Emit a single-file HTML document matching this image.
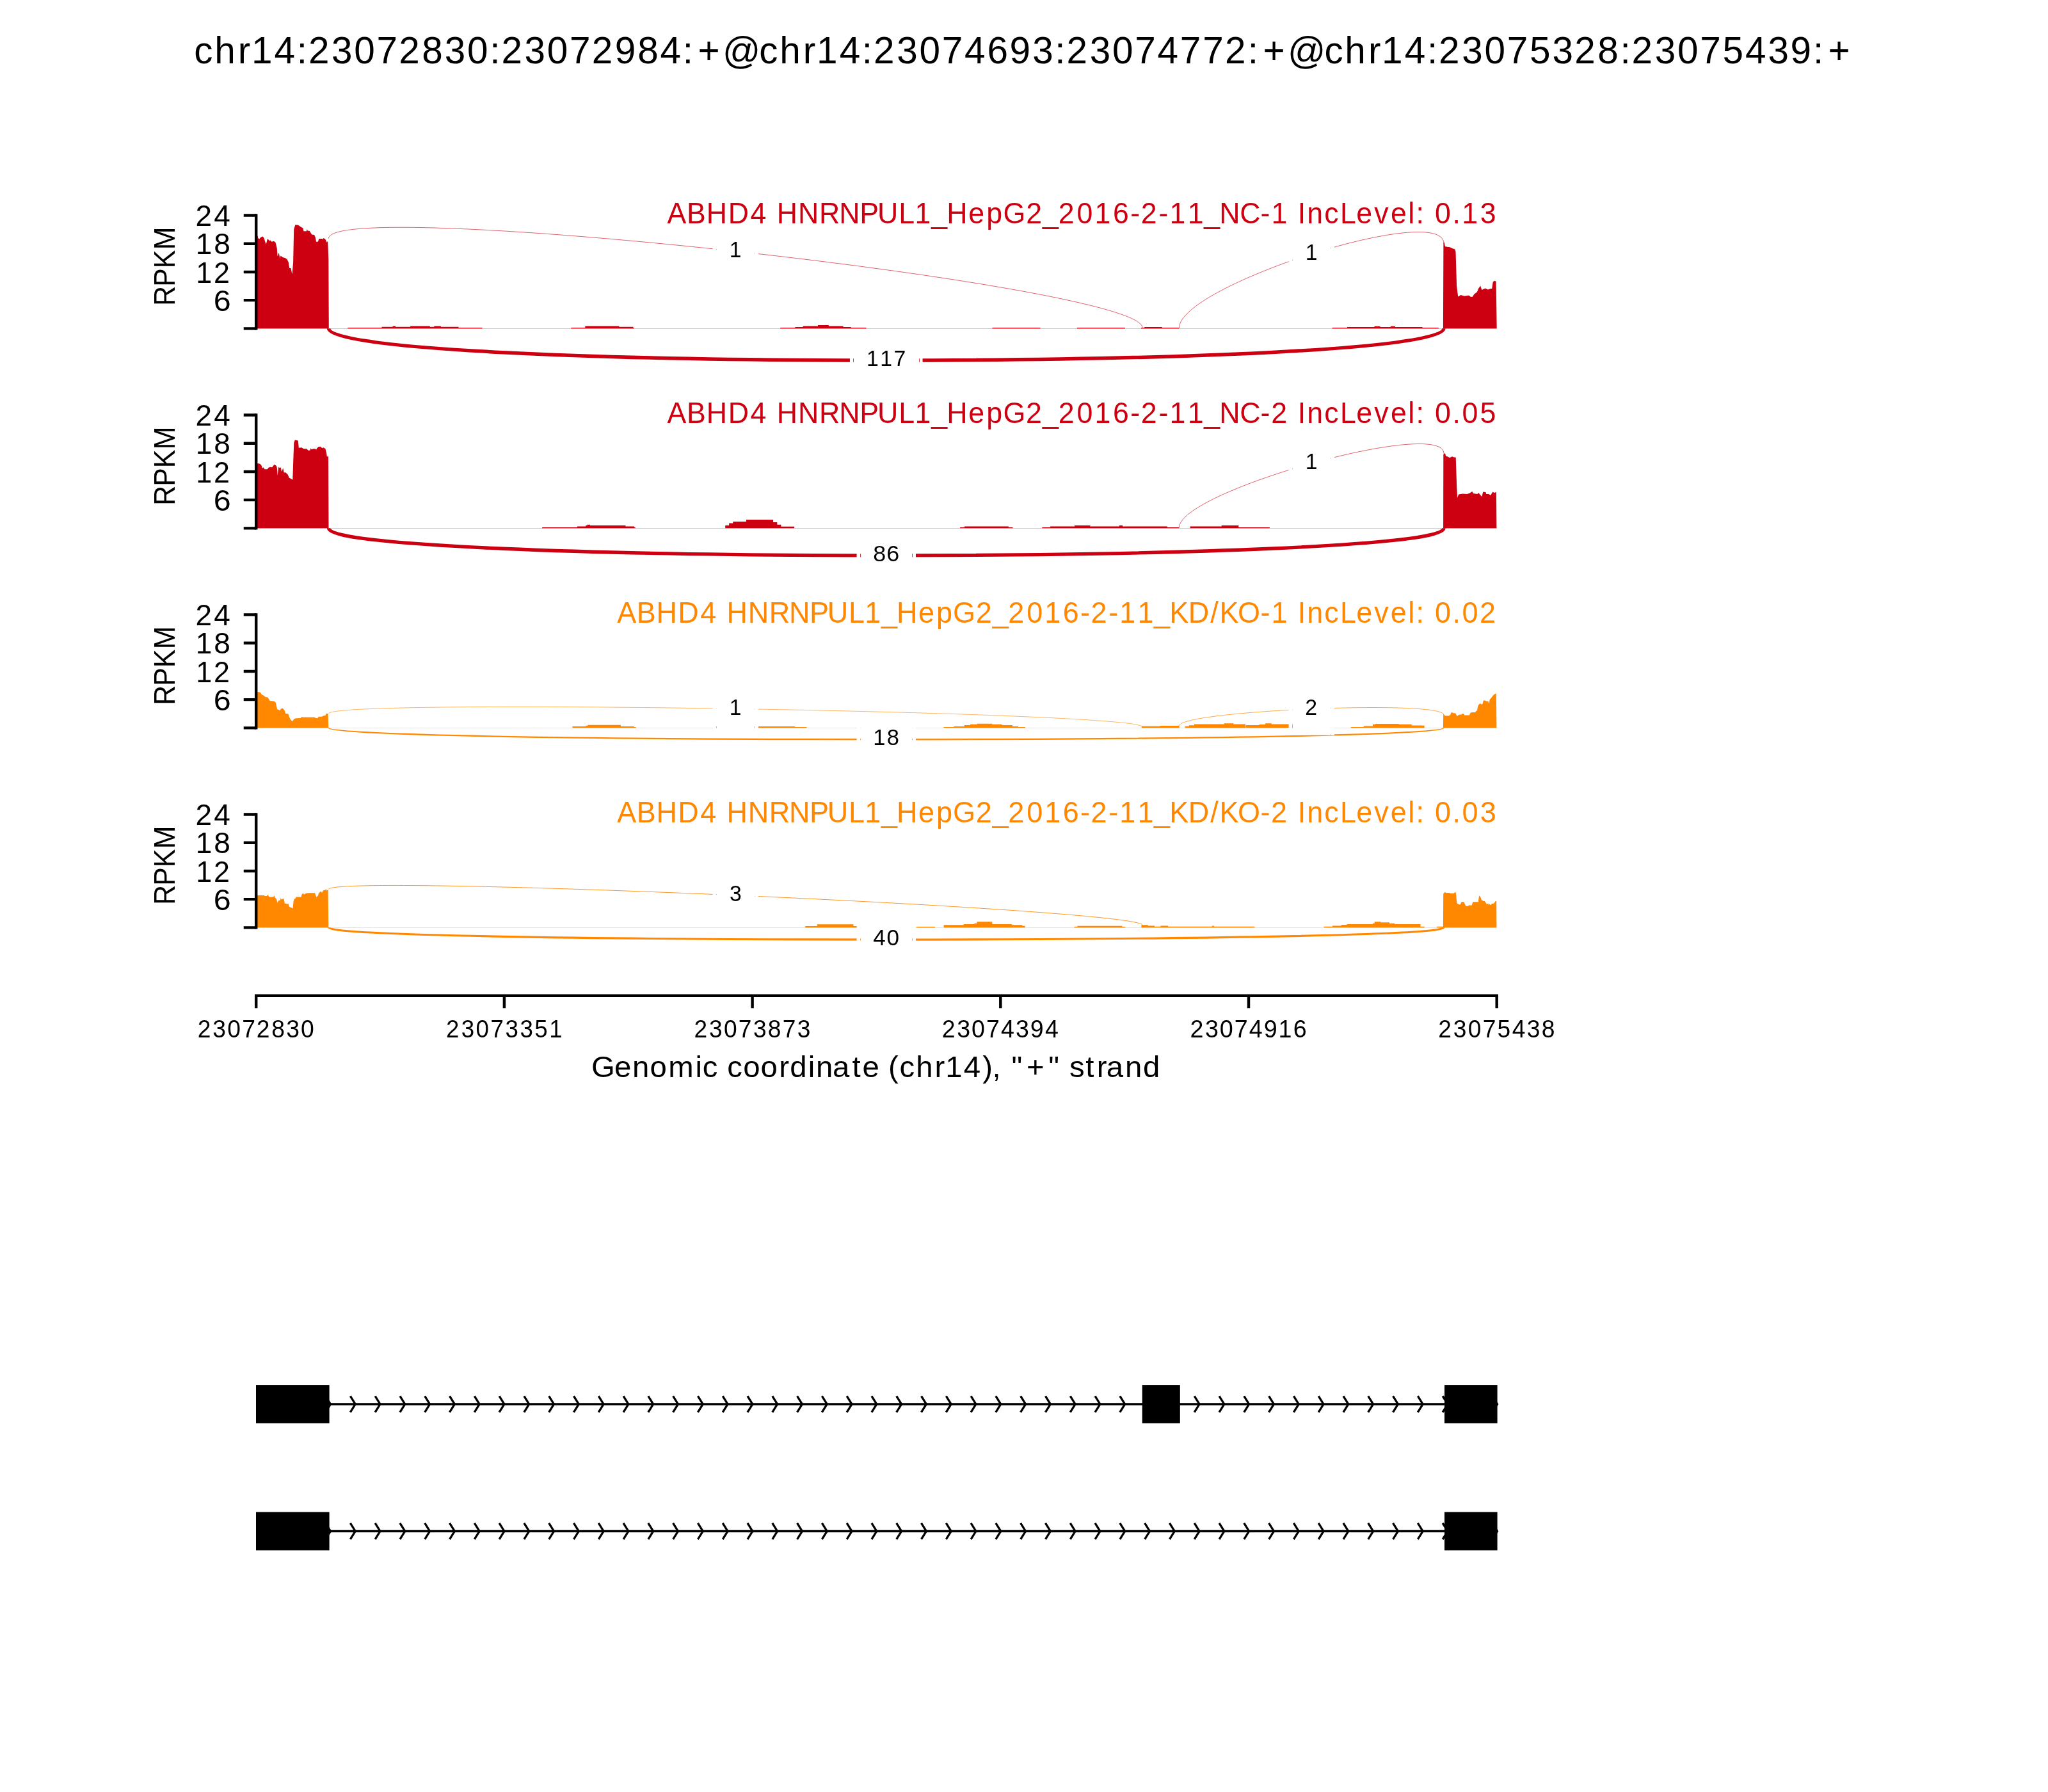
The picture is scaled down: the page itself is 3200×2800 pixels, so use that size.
<!DOCTYPE html>
<html><head><meta charset="utf-8"><title>sashimi plot</title>
<style>
html,body{margin:0;padding:0;background:#fff;}
svg{display:block;will-change:transform;}
text{font-family:"Liberation Sans",sans-serif;font-kerning:none;white-space:pre;}
</style></head>
<body>
<svg width="3200" height="2800" viewBox="0 0 3200 2800">
<rect width="3200" height="2800" fill="#fff"/>
<text transform="matrix(0.99356 0 0 1 0 98.5)" x="305.19 337.33 374.15 395.48 431.35 466.78 485.03 521.42 556.92 592.38 627.33 663.64 699.29 734.79 770.22 788.47 824.86 860.36 895.82 930.77 966.91 1002.66 1038.23 1073.66 1097.49 1136.29 1194 1226.14 1262.96 1284.28 1320.16 1355.59 1373.84 1410.23 1445.72 1481.19 1516.87 1552.45 1587.85 1623.68 1659.03 1677.28 1713.67 1749.17 1784.63 1820.31 1855.78 1891.36 1926.3 1962.47 1986.3 2025.1 2082.81 2114.95 2151.77 2173.09 2208.96 2244.39 2262.65 2299.03 2334.53 2370 2405.47 2441.34 2476.1 2512.41 2547.84 2566.09 2602.48 2637.97 2673.44 2708.91 2744.7 2780.35 2815.67 2851.28 2875.11" y="0" font-size="58.87" fill="#000">chr14:23072830:23072984:+@chr14:23074693:23074772:+@chr14:23075328:23075439:+</text>
<g>
<rect x="400" y="513" width="1938.7" height="1" fill="#CC0011" fill-opacity="0.28"/>
<path d="M400,513.35 L400,367.1 L401.9,367.1 L403.5,372.4 L405.6,372.9 L406.7,371.4 L409.3,369.8 L410.9,369.8 L412.5,371.9 L415.7,382 L417.8,373.5 L418.9,373.5 L420.5,376.1 L422.6,375.6 L424.7,377.7 L427.9,376.7 L430.5,378.8 L432.7,387.8 L433.7,400.5 L435.8,394.7 L437.4,403.7 L438.5,399.5 L441.7,402.1 L445.9,403.2 L448.6,405.3 L450.7,409.5 L452.3,419.1 L454.4,419.1 L456.5,428.6 L458.1,410.6 L459.2,358.6 L461.3,351.2 L466.1,351.7 L469.2,353.9 L473.5,356.5 L474.5,361.3 L478.8,361.3 L479.8,358.1 L480.9,360.7 L483.6,360.7 L487.3,366.6 L491,367.1 L492.6,370.3 L494.2,377.7 L496.8,377.7 L498.4,373 L502.1,373 L504.2,373.5 L505.8,371.9 L508.5,374 L510.6,378.8 L512.2,376.7 L513.3,404.2 L513.8,513.35 L513.8,513.35 Z" fill="#CC0011"/>
<path d="M2254.9,513.35 L2254.9,513.35 L2255.4,379.8 L2256.4,378.3 L2258,385.1 L2261.2,385.7 L2265.5,386.2 L2269.7,388.3 L2273.4,389.4 L2274.5,393.6 L2276.1,446.6 L2278.2,463.6 L2282.4,461 L2288.8,462.6 L2295.2,461.5 L2297.3,463.6 L2300.5,464.1 L2303.6,459.4 L2307.9,456.2 L2310,450.9 L2313.2,446.6 L2315.3,453 L2320.6,450.4 L2324.9,452.5 L2329.1,450.9 L2331.2,450.9 L2332.8,440.3 L2335.5,438.7 L2337.6,439.8 L2338.7,513.35 L2338.7,513.35 Z" fill="#CC0011"/>
<path d="M543.2,513.35H753.6V512H543.2ZM596.5,513.35H716.5V510.8H596.5ZM613.6,513.35H618.1V509.6H613.6ZM641.1,513.35H671.8V509.6H641.1ZM678.3,513.35H688.9V509.6H678.3ZM892.3,513.35H990.6V512H892.3ZM914.3,513.35H967.4V509.6H914.3ZM967.4,513.35H989.4V510.8H967.4ZM1219.2,513.35H1353.5V511.9H1219.2ZM1242.4,513.35H1329.7V510.9H1242.4ZM1254.6,513.35H1317.6V509.6H1254.6ZM1278,513.35H1294.9V508H1278ZM1550.4,513.35H1625.6V512H1550.4ZM1682.8,513.35H1757.9V512H1682.8ZM1783.1,513.35H1842.4V512H1783.1ZM1788.2,513.35H1815.8V511.1H1788.2ZM2081.6,513.35H2247.8V512H2081.6ZM2105,513.35H2222.5V510.9H2105ZM2147.5,513.35H2156.5V509.7H2147.5ZM2172.8,513.35H2180V509.7H2172.8Z" fill="#CC0011"/>
<path d="M513.5,372.7 C513.5,306.4 1785,445.7 1785,512" fill="none" stroke="#CC0011" stroke-width="0.62"/>
<path d="M1842.5,512.3 C1842.5,446 2256,314.4 2256,380.7" fill="none" stroke="#CC0011" stroke-width="0.62"/>
<path d="M513.5,513.35 C513.5,579.65 2256,579.65 2256,513.35" fill="none" stroke="#CC0011" stroke-width="5.5"/>
<rect x="1113.65" y="351.49" width="5.35" height="82.27" fill="#fff"/>
<rect x="1119" y="351.49" width="1" height="82.27" fill="#fff" fill-opacity="0.25"/>
<rect x="1120" y="351.49" width="59" height="82.27" fill="#fff"/>
<rect x="1179" y="351.49" width="1" height="82.27" fill="#fff" fill-opacity="0.25"/>
<rect x="1180" y="351.49" width="4.85" height="82.27" fill="#fff"/>
<text transform="matrix(0.95017 0 0 1 0 401.82)" x="1199.52" y="0" font-size="35.32" fill="#000">1</text>
<rect x="2013.65" y="355.64" width="5.35" height="82.27" fill="#fff"/>
<rect x="2019" y="355.64" width="1" height="82.27" fill="#fff" fill-opacity="0.25"/>
<rect x="2020" y="355.64" width="59" height="82.27" fill="#fff"/>
<rect x="2079" y="355.64" width="1" height="82.27" fill="#fff" fill-opacity="0.25"/>
<rect x="2080" y="355.64" width="4.85" height="82.27" fill="#fff"/>
<text transform="matrix(0.95017 0 0 1 0 405.97)" x="2146.72" y="0" font-size="35.32" fill="#000">1</text>
<rect x="1327.94" y="521.94" width="5.06" height="82.27" fill="#fff"/>
<rect x="1333" y="521.94" width="1" height="82.27" fill="#fff" fill-opacity="0.25"/>
<rect x="1334" y="521.94" width="102" height="82.27" fill="#fff"/>
<rect x="1436" y="521.94" width="1" height="82.27" fill="#fff" fill-opacity="0.25"/>
<rect x="1437" y="521.94" width="4.56" height="82.27" fill="#fff"/>
<text transform="matrix(0.95811 0 0 1 0 572.27)" x="1413.17 1435.3 1457.54" y="0" font-size="35.32" fill="#000">117</text>
<path d="M400.2,513.35 V336.5" stroke="#000" stroke-width="4.44" stroke-linecap="square"/>
<path d="M380.76,513.35H400.2M380.76,469.14H400.2M380.76,424.93H400.2M380.76,380.71H400.2M380.76,336.5H400.2" stroke="#000" stroke-width="4.44"/>
<text transform="matrix(1.02965 0 0 1 0 485.74)" x="324.06" y="0" font-size="47.09" fill="#000">6</text>
<text transform="matrix(0.95467 0 0 1 0 441.53)" x="320.7 349.92" y="0" font-size="47.09" fill="#000">12</text>
<text transform="matrix(0.97907 0 0 1 0 397.31)" x="312.36 341.48" y="0" font-size="47.09" fill="#000">18</text>
<text transform="matrix(0.97786 0 0 1 0 353.1)" x="312.4 341.91" y="0" font-size="47.09" fill="#000">24</text>
<text transform="translate(272.8,474.1) rotate(-90) scale(0.91010,1)" x="-3.98 29.03 60.14 92.08" y="0" font-size="47.09" fill="#000">RPKM</text>
<text transform="matrix(0.94955 0 0 1 0 348.8)" x="1097.96 1129.99 1162.38 1198.12 1234.81 1263.71 1278.27 1313.38 1347.94 1380.91 1414.65 1443.79 1478.88 1505.56 1532.47 1557.76 1593.77 1623.25 1650.67 1688.32 1715.63 1741.5 1771.9 1801.45 1831.46 1860.05 1877.51 1906.72 1924.57 1954.35 1981.27 2006.46 2040.07 2074.27 2092.12 2121.23 2135.57 2150.86 2179.24 2205.38 2231.89 2261.37 2288.38 2317.06 2330.14 2345.46 2361.22 2390.09 2405.66 2435.71" y="0" font-size="47.09" fill="#CC0011">ABHD4 HNRNPUL1_HepG2_2016-2-11_NC-1 IncLevel: 0.13</text>
</g>
<g>
<rect x="400" y="825" width="1938.7" height="1" fill="#CC0011" fill-opacity="0.28"/>
<path d="M400,825.35 L400,724.3 L402,724.3 L405,724.3 L408.1,726.3 L410.1,731.8 L411.6,730.3 L413.6,733.3 L417.6,733.3 L419.6,730.8 L422.1,729.8 L425.1,730.3 L428.6,725.8 L431.7,727.8 L432.7,730.3 L433.7,742.9 L435.2,729.8 L437.2,731.3 L438.7,730.3 L440.2,737.3 L442.2,731.3 L443.7,738.3 L446.2,738.3 L449.7,741.4 L451.7,746.4 L457.3,749.4 L458.3,718.3 L459.3,692.1 L460.8,687.6 L465.8,688.6 L466.8,699.7 L471.3,699.2 L474.3,701.2 L479.4,701.2 L481.4,703.7 L484.4,703.7 L485.4,700.2 L486.9,702.2 L489.4,701.2 L492.9,701.2 L493.9,702.7 L495.4,700.2 L497.4,698.2 L500.5,697.7 L503.5,700.2 L505.5,699.2 L508.5,701.2 L510,707.2 L511,714.2 L512,711.7 L513,714.2 L513.5,825.35 L513.5,825.35 Z" fill="#CC0011"/>
<path d="M2255.1,825.35 L2255.1,825.35 L2255.3,710.2 L2256.6,708.7 L2258.1,708.2 L2259.1,712.7 L2261.6,713.2 L2265.1,715.2 L2269.1,713.2 L2271.1,714.2 L2274.7,714.7 L2276.2,760.4 L2277.2,777.5 L2279.2,772.5 L2285.2,771.5 L2292.2,772 L2296.3,770.5 L2300.3,768 L2302.3,771 L2308.3,772 L2310.3,770 L2312.3,772.5 L2315.3,776 L2317.3,768.5 L2321.4,769 L2322.4,772 L2326.4,772 L2328.9,774 L2332.4,768.5 L2334.4,770 L2337.9,769 L2338.4,825.35 L2338.4,825.35 Z" fill="#CC0011"/>
<path d="M847.1,825.35H992.7V824.1H847.1ZM902,825.35H990.9V822.6H902ZM915.2,825.35H977.5V821.1H915.2ZM917.7,825.35H921.9V819.8H917.7ZM1133.2,825.35H1241.1V822.7H1133.2ZM1133.2,825.35H1139.1V820.9H1133.2ZM1139.1,825.35H1220.4V819.8H1139.1ZM1139.1,825.35H1214.3V817.4H1139.1ZM1145.3,825.35H1214.3V815.9H1145.3ZM1145.3,825.35H1208.1V814.9H1145.3ZM1165.9,825.35H1208.1V811.9H1165.9ZM1500.1,825.35H1582.5V824.1H1500.1ZM1507.1,825.35H1575.8V822.6H1507.1ZM1628.3,825.35H1842.4V824.1H1628.3ZM1641.1,825.35H1823.9V822.5H1641.1ZM1679,825.35H1703.4V821.1H1679ZM1748.7,825.35H1754.2V820.9H1748.7ZM1859.5,825.35H1983.9V823.9H1859.5ZM1859.5,825.35H1935.3V822.5H1859.5ZM1908.7,825.35H1935.3V820.9H1908.7Z" fill="#CC0011"/>
<path d="M1842.5,824.2 C1842.5,767.5 2256,652.1 2256,708.8" fill="none" stroke="#CC0011" stroke-width="0.62"/>
<path d="M513.5,825.35 C513.5,882.05 2256,882.05 2256,825.35" fill="none" stroke="#CC0011" stroke-width="5.3"/>
<rect x="2013.65" y="682.84" width="5.35" height="82.27" fill="#fff"/>
<rect x="2019" y="682.84" width="1" height="82.27" fill="#fff" fill-opacity="0.25"/>
<rect x="2020" y="682.84" width="59" height="82.27" fill="#fff"/>
<rect x="2079" y="682.84" width="1" height="82.27" fill="#fff" fill-opacity="0.25"/>
<rect x="2080" y="682.84" width="4.85" height="82.27" fill="#fff"/>
<text transform="matrix(0.95017 0 0 1 0 733.18)" x="2146.72" y="0" font-size="35.32" fill="#000">1</text>
<rect x="1338.54" y="826.74" width="5.46" height="82.27" fill="#fff"/>
<rect x="1344" y="826.74" width="1" height="82.27" fill="#fff" fill-opacity="0.25"/>
<rect x="1345" y="826.74" width="80" height="82.27" fill="#fff"/>
<rect x="1425" y="826.74" width="1" height="82.27" fill="#fff" fill-opacity="0.25"/>
<rect x="1426" y="826.74" width="4.96" height="82.27" fill="#fff"/>
<text transform="matrix(1.01754 0 0 1 0 877.08)" x="1340.63 1361.48" y="0" font-size="35.32" fill="#000">86</text>
<path d="M400.2,825.35 V648.5" stroke="#000" stroke-width="4.44" stroke-linecap="square"/>
<path d="M380.76,825.35H400.2M380.76,781.14H400.2M380.76,736.92H400.2M380.76,692.71H400.2M380.76,648.5H400.2" stroke="#000" stroke-width="4.44"/>
<text transform="matrix(1.02965 0 0 1 0 797.74)" x="324.06" y="0" font-size="47.09" fill="#000">6</text>
<text transform="matrix(0.95467 0 0 1 0 753.52)" x="320.7 349.92" y="0" font-size="47.09" fill="#000">12</text>
<text transform="matrix(0.97907 0 0 1 0 709.31)" x="312.36 341.48" y="0" font-size="47.09" fill="#000">18</text>
<text transform="matrix(0.97786 0 0 1 0 665.1)" x="312.4 341.91" y="0" font-size="47.09" fill="#000">24</text>
<text transform="translate(272.8,786.1) rotate(-90) scale(0.91010,1)" x="-3.98 29.03 60.14 92.08" y="0" font-size="47.09" fill="#000">RPKM</text>
<text transform="matrix(0.95037 0 0 1 0 660.8)" x="1097 1129 1161.36 1197.07 1233.73 1262.62 1277.16 1312.23 1346.77 1379.71 1413.42 1442.53 1477.6 1504.25 1531.14 1556.41 1592.39 1621.84 1649.24 1686.85 1714.14 1739.99 1770.36 1799.89 1829.88 1858.45 1875.88 1905.08 1922.9 1952.66 1979.55 2004.72 2038.3 2072.48 2089.91 2119.4 2133.73 2148.99 2177.35 2203.47 2229.96 2259.41 2286.4 2315.06 2328.13 2343.43 2359.18 2388.03 2403.8 2433.37" y="0" font-size="47.09" fill="#CC0011">ABHD4 HNRNPUL1_HepG2_2016-2-11_NC-2 IncLevel: 0.05</text>
</g>
<g>
<rect x="400" y="1137" width="1938.7" height="1" fill="#FF8800" fill-opacity="0.28"/>
<path d="M400,1137.35 L400,1081.2 L401.8,1081.2 L405.3,1081.2 L407.3,1082.6 L408.7,1084.9 L412.8,1087.3 L414.5,1089 L418.2,1089.4 L421.7,1094.9 L427.5,1095.5 L430.5,1096.9 L433.3,1108.5 L436,1108.9 L437.4,1110.6 L439.4,1106.8 L440.5,1107.5 L441.8,1106.5 L442.8,1107.8 L444.9,1110.6 L446.3,1115 L450.4,1115.4 L453.1,1122.9 L456.5,1127.3 L459.6,1123.2 L462.7,1122.2 L470.2,1121.9 L471.6,1119.8 L472.9,1120.8 L491.4,1120.8 L493.4,1121.9 L496.8,1121.9 L497.5,1119.8 L503,1119.8 L505,1118.4 L508.5,1118.1 L509.5,1114.3 L510.5,1115.4 L512.6,1114.7 L513.3,1137.35 L513.3,1137.35 Z" fill="#FF8800"/>
<path d="M2254.9,1137.35 L2254.9,1137.35 L2255.2,1115.8 L2258.1,1118.4 L2263.8,1118.4 L2266.3,1116.8 L2267.6,1113.3 L2269.5,1113.3 L2270.8,1114.3 L2274,1114.3 L2275.9,1117.4 L2276.5,1119.6 L2278.4,1117.4 L2281,1116.5 L2283.5,1116.5 L2284.8,1115.2 L2287.3,1115.2 L2288.3,1117.4 L2295.9,1117.4 L2297.5,1113.9 L2299.4,1113 L2305.1,1113 L2306.3,1111.1 L2307.9,1110.4 L2309.5,1102.5 L2311.4,1100 L2313.3,1099.3 L2314.6,1100.6 L2316.5,1100 L2317.8,1094.6 L2320.3,1094.6 L2322.2,1095.5 L2325.4,1095.8 L2326.7,1099.7 L2327.6,1093.3 L2330.5,1090.1 L2332.4,1087.3 L2334.9,1084.7 L2337.5,1083.8 L2337.8,1081.6 L2338.4,1137.35 L2338.4,1137.35 Z" fill="#FF8800"/>
<path d="M894.4,1137.35H990.6V1135H894.4ZM915.5,1137.35H918.6V1133.7H915.5ZM918.6,1137.35H969.9V1132.8H918.6ZM990.6,1137.35H993.7V1135.9H990.6ZM1119,1137.35H1242.2V1135H1119ZM1242.2,1137.35H1260.5V1135.9H1242.2ZM1474.4,1137.35H1602V1135.9H1474.4ZM1490.3,1137.35H1591V1135H1490.3ZM1506.8,1137.35H1581.8V1132.9H1506.8ZM1515.9,1137.35H1565.4V1131.7H1515.9ZM1526.9,1137.35H1550.1V1130.7H1526.9ZM1783.8,1137.35H1842.6V1134.8H1783.8ZM1812.5,1137.35H1842.6V1133.9H1812.5ZM1851.5,1137.35H1866V1134.7H1851.5ZM1858,1137.35H1866V1133.2H1858ZM1866,1137.35H1946V1131.6H1866ZM1912.7,1137.35H1927.2V1130.3H1912.7ZM1927.2,1137.35H1934V1132.7H1927.2ZM1946.5,1137.35H2020V1133.1H1946.5ZM1967.5,1137.35H2020V1131.9H1967.5ZM1977.1,1137.35H1986.8V1130.3H1977.1ZM1986.8,1137.35H2020V1131.6H1986.8ZM2110.7,1137.35H2130.7V1135.9H2110.7ZM2130.7,1137.35H2224V1134.5H2130.7ZM2145,1137.35H2205.7V1131.8H2145ZM2148.8,1137.35H2185.7V1130.9H2148.8ZM2205.7,1137.35H2222.7V1133.6H2205.7ZM2220,1137.35H2225.7V1133.7H2220Z" fill="#FF8800"/>
<path d="M513.5,1115 C513.5,1091.1 1785,1111.9 1785,1135.8" fill="none" stroke="#FF8800" stroke-width="0.62"/>
<path d="M1842.5,1134.2 C1842.5,1110.3 2256,1093.1 2256,1117" fill="none" stroke="#FF8800" stroke-width="0.72"/>
<path d="M513.5,1137.35 C513.5,1161.25 2256,1161.25 2256,1137.35" fill="none" stroke="#FF8800" stroke-width="2.3"/>
<rect x="1113.65" y="1066.34" width="5.35" height="82.27" fill="#fff"/>
<rect x="1119" y="1066.34" width="1" height="82.27" fill="#fff" fill-opacity="0.25"/>
<rect x="1120" y="1066.34" width="59" height="82.27" fill="#fff"/>
<rect x="1179" y="1066.34" width="1" height="82.27" fill="#fff" fill-opacity="0.25"/>
<rect x="1180" y="1066.34" width="4.85" height="82.27" fill="#fff"/>
<text transform="matrix(0.95017 0 0 1 0 1116.67)" x="1199.52" y="0" font-size="35.32" fill="#000">1</text>
<rect x="2013.65" y="1066.54" width="5.35" height="82.27" fill="#fff"/>
<rect x="2019" y="1066.54" width="1" height="82.27" fill="#fff" fill-opacity="0.25"/>
<rect x="2020" y="1066.54" width="59" height="82.27" fill="#fff"/>
<rect x="2079" y="1066.54" width="1" height="82.27" fill="#fff" fill-opacity="0.25"/>
<rect x="2080" y="1066.54" width="4.85" height="82.27" fill="#fff"/>
<text transform="matrix(0.95893 0 0 1 0 1116.88)" x="2126.73" y="0" font-size="35.32" fill="#000">2</text>
<rect x="1338.54" y="1114.14" width="5.46" height="82.27" fill="#fff"/>
<rect x="1344" y="1114.14" width="1" height="82.27" fill="#fff" fill-opacity="0.25"/>
<rect x="1345" y="1114.14" width="80" height="82.27" fill="#fff"/>
<rect x="1425" y="1114.14" width="1" height="82.27" fill="#fff" fill-opacity="0.25"/>
<rect x="1426" y="1114.14" width="4.96" height="82.27" fill="#fff"/>
<text transform="matrix(0.97907 0 0 1 0 1164.48)" x="1393.51 1415.35" y="0" font-size="35.32" fill="#000">18</text>
<path d="M400.2,1137.35 V960.5" stroke="#000" stroke-width="4.44" stroke-linecap="square"/>
<path d="M380.76,1137.35H400.2M380.76,1093.14H400.2M380.76,1048.92H400.2M380.76,1004.71H400.2M380.76,960.5H400.2" stroke="#000" stroke-width="4.44"/>
<text transform="matrix(1.02965 0 0 1 0 1109.74)" x="324.06" y="0" font-size="47.09" fill="#000">6</text>
<text transform="matrix(0.95467 0 0 1 0 1065.52)" x="320.7 349.92" y="0" font-size="47.09" fill="#000">12</text>
<text transform="matrix(0.97907 0 0 1 0 1021.31)" x="312.36 341.48" y="0" font-size="47.09" fill="#000">18</text>
<text transform="matrix(0.97786 0 0 1 0 977.1)" x="312.4 341.91" y="0" font-size="47.09" fill="#000">24</text>
<text transform="translate(272.8,1098.1) rotate(-90) scale(0.91010,1)" x="-3.98 29.03 60.14 92.08" y="0" font-size="47.09" fill="#000">RPKM</text>
<text transform="matrix(0.95567 0 0 1 0 972.8)" x="1009.01 1040.83 1073.01 1108.51 1145 1173.76 1188.16 1223.04 1257.38 1290.14 1323.67 1352.61 1387.51 1414.01 1440.76 1465.86 1501.66 1530.95 1558.17 1595.61 1622.74 1648.45 1678.65 1708.01 1737.84 1766.28 1783.58 1812.65 1830.34 1859.93 1886.68 1911.95 1942.81 1978.91 1993.93 2023.78 2060.94 2078.63 2107.61 2121.86 2137 2165.2 2191.17 2217.51 2246.81 2273.65 2302.19 2315.18 2330.4 2346.02 2374.74 2390.39 2419.36" y="0" font-size="47.09" fill="#FF8800">ABHD4 HNRNPUL1_HepG2_2016-2-11_KD/KO-1 IncLevel: 0.02</text>
</g>
<g>
<rect x="400" y="1449" width="1938.7" height="1" fill="#FF8800" fill-opacity="0.28"/>
<path d="M400,1449.35 L400,1399 L401.8,1399 L412.8,1399 L413.5,1400.1 L416.9,1400.1 L418.2,1397.7 L419.6,1400.1 L421.3,1401.4 L427.1,1401.4 L428.5,1399 L429.2,1402.1 L431.9,1404.5 L433.6,1410.7 L435.3,1407.3 L437.7,1406.6 L438.7,1403.2 L440.1,1405.5 L442.2,1404.2 L443.5,1404.5 L444.9,1411.4 L449,1412.4 L450.4,1411.7 L451.7,1416.5 L453.8,1417.8 L455.8,1418.5 L457.5,1419.6 L458.6,1408.3 L459.6,1404.9 L461.6,1403.8 L462.7,1401.4 L470.5,1401.4 L471.6,1397.7 L473.6,1395.3 L475,1397.7 L477,1396.3 L481.1,1395.3 L492.1,1395.3 L493.4,1399.4 L494.8,1401.8 L496.8,1399.4 L498.2,1395.3 L501.6,1392.6 L503,1395 L505,1391.2 L508.5,1390.5 L509.5,1388.8 L510.5,1391.5 L512.6,1390.2 L513.3,1449.35 L513.3,1449.35 Z" fill="#FF8800"/>
<path d="M2254.9,1449.35 L2254.9,1449.35 L2255.2,1396.6 L2256.5,1395.1 L2258.1,1393.8 L2259,1395.1 L2265.1,1395.1 L2266.3,1396 L2271.4,1396 L2272.7,1394.7 L2274.6,1394.1 L2275.2,1398.6 L2276.2,1410 L2277.1,1411.9 L2279,1412.5 L2280,1413.5 L2281.9,1413.1 L2283.5,1409.3 L2287.6,1409.3 L2288.6,1412.2 L2290.5,1415.7 L2293.7,1415.7 L2295.2,1414.4 L2299.7,1414.4 L2301.3,1409.3 L2309.8,1409.3 L2311.1,1399.2 L2313.3,1401.7 L2314.6,1404.9 L2315.2,1407.1 L2316.5,1407.1 L2317.8,1408.1 L2319.7,1408.1 L2321.6,1410.3 L2322.5,1412.5 L2325.4,1411.9 L2326.7,1414.4 L2327.3,1412.2 L2329.5,1414.4 L2330.5,1412.2 L2334.3,1411.6 L2336.8,1408.1 L2338.1,1408.1 L2338.4,1449.35 L2338.4,1449.35 Z" fill="#FF8800"/>
<path d="M1258.1,1449.35H1339V1446.9H1258.1ZM1276.8,1449.35H1333.5V1444.2H1276.8ZM1431.8,1449.35H1461.1V1447.9H1431.8ZM1474.6,1449.35H1601.6V1446.8H1474.6ZM1474.6,1449.35H1597.3V1445.3H1474.6ZM1505.8,1449.35H1580.9V1444.1H1505.8ZM1522.3,1449.35H1550.3V1442.7H1522.3ZM1526.5,1449.35H1550.3V1440.2H1526.5ZM1678.5,1449.35H1758.1V1448H1678.5ZM1683.4,1449.35H1753.3V1446.7H1683.4ZM1783.4,1449.35H1960.5V1447.7H1783.4ZM1783.4,1449.35H1793.7V1445.3H1783.4ZM1793.7,1449.35H1803.9V1446.4H1793.7ZM1813.5,1449.35H1825.1V1446.4H1813.5ZM1893.9,1449.35H1896.7V1446.6H1893.9ZM2068.4,1449.35H2225.7V1447.7H2068.4ZM2082.1,1449.35H2219.5V1446.4H2082.1ZM2095.8,1449.35H2219.5V1445H2095.8ZM2104.7,1449.35H2219.5V1443.9H2104.7ZM2145,1449.35H2179.2V1442.7H2145ZM2147.7,1449.35H2171V1441.2H2147.7ZM2147.7,1449.35H2157.3V1440.2H2147.7ZM2244.8,1449.35H2255V1447.7H2244.8Z" fill="#FF8800"/>
<path d="M513.5,1389.7 C513.5,1364.8 1785,1420.6 1785,1445.5" fill="none" stroke="#FF8800" stroke-width="0.88"/>
<path d="M513.5,1449.35 C513.5,1474.25 2256,1474.25 2256,1449.35" fill="none" stroke="#FF8800" stroke-width="3.2"/>
<rect x="1113.65" y="1357.79" width="5.35" height="82.27" fill="#fff"/>
<rect x="1119" y="1357.79" width="1" height="82.27" fill="#fff" fill-opacity="0.25"/>
<rect x="1120" y="1357.79" width="59" height="82.27" fill="#fff"/>
<rect x="1179" y="1357.79" width="1" height="82.27" fill="#fff" fill-opacity="0.25"/>
<rect x="1180" y="1357.79" width="4.85" height="82.27" fill="#fff"/>
<text transform="matrix(0.95542 0 0 1 0 1408.12)" x="1193.09" y="0" font-size="35.32" fill="#000">3</text>
<rect x="1338.54" y="1426.89" width="5.46" height="82.27" fill="#fff"/>
<rect x="1344" y="1426.89" width="1" height="82.27" fill="#fff" fill-opacity="0.25"/>
<rect x="1345" y="1426.89" width="80" height="82.27" fill="#fff"/>
<rect x="1425" y="1426.89" width="1" height="82.27" fill="#fff" fill-opacity="0.25"/>
<rect x="1426" y="1426.89" width="4.96" height="82.27" fill="#fff"/>
<text transform="matrix(0.99491 0 0 1 0 1477.23)" x="1371.34 1392.66" y="0" font-size="35.32" fill="#000">40</text>
<path d="M400.2,1449.35 V1272.5" stroke="#000" stroke-width="4.44" stroke-linecap="square"/>
<path d="M380.76,1449.35H400.2M380.76,1405.14H400.2M380.76,1360.92H400.2M380.76,1316.71H400.2M380.76,1272.5H400.2" stroke="#000" stroke-width="4.44"/>
<text transform="matrix(1.02965 0 0 1 0 1421.74)" x="324.06" y="0" font-size="47.09" fill="#000">6</text>
<text transform="matrix(0.95467 0 0 1 0 1377.52)" x="320.7 349.92" y="0" font-size="47.09" fill="#000">12</text>
<text transform="matrix(0.97907 0 0 1 0 1333.31)" x="312.36 341.48" y="0" font-size="47.09" fill="#000">18</text>
<text transform="matrix(0.97786 0 0 1 0 1289.1)" x="312.4 341.91" y="0" font-size="47.09" fill="#000">24</text>
<text transform="translate(272.8,1410.1) rotate(-90) scale(0.91010,1)" x="-3.98 29.03 60.14 92.08" y="0" font-size="47.09" fill="#000">RPKM</text>
<text transform="matrix(0.95577 0 0 1 0 1284.8)" x="1008.91 1040.72 1072.9 1108.4 1144.88 1173.64 1188.04 1222.91 1257.25 1290.01 1323.53 1352.47 1387.36 1413.87 1440.61 1465.71 1501.51 1530.79 1558.01 1595.44 1622.57 1648.28 1678.48 1707.84 1737.66 1766.09 1783.4 1812.46 1830.15 1859.74 1886.48 1911.76 1942.61 1978.7 1993.72 2023.57 2060.72 2078.03 2107.39 2121.64 2136.78 2164.98 2190.94 2217.28 2246.58 2273.41 2301.95 2314.94 2330.16 2345.77 2374.5 2390.14 2419.79" y="0" font-size="47.09" fill="#FF8800">ABHD4 HNRNPUL1_HepG2_2016-2-11_KD/KO-2 IncLevel: 0.03</text>
</g>
<path d="M400.2,1555.8 H2338.7" stroke="#000" stroke-width="4.44" stroke-linecap="square"/>
<path d="M400.2,1555.8V1575.24M787.9,1555.8V1575.24M1175.6,1555.8V1575.24M1563.3,1555.8V1575.24M1951,1555.8V1575.24M2338.7,1555.8V1575.24" stroke="#000" stroke-width="4.44"/>
<text transform="matrix(0.97481 0 0 1 0 1620.5)" x="316.79 340.89 364.41 387.91 411.06 435.12 458.73 482.25" y="0" font-size="38.26" fill="#000">23072830</text>
<text transform="matrix(0.96038 0 0 1 0 1620.5)" x="725.89 750.36 774.23 798.08 822.13 846.05 869.78 893.66" y="0" font-size="38.26" fill="#000">23073351</text>
<text transform="matrix(0.97152 0 0 1 0 1620.5)" x="1116.28 1140.46 1164.06 1187.64 1211.41 1235.01 1258.58 1282.35" y="0" font-size="38.26" fill="#000">23073873</text>
<text transform="matrix(0.98214 0 0 1 0 1620.5)" x="1498.41 1522.33 1545.68 1569 1592.46 1615.91 1639.13 1662.64" y="0" font-size="38.26" fill="#000">23074394</text>
<text transform="matrix(0.98599 0 0 1 0 1620.5)" x="1885.84 1909.68 1932.93 1956.16 1979.53 2002.72 2025.94 2049.44" y="0" font-size="38.26" fill="#000">23074916</text>
<text transform="matrix(0.97238 0 0 1 0 1620.5)" x="2311.21 2335.37 2358.95 2382.5 2406.06 2429.83 2453.51 2477.09" y="0" font-size="38.26" fill="#000">23075438</text>
<text transform="matrix(1.00563 0 0 1 0 1683.2)" x="918.74 954.76 982.37 1009.81 1038.45 1080.4 1091.59 1116.53 1129.94 1154.83 1181.87 1210.55 1227.32 1255.63 1267.98 1293.75 1324.07 1339.99 1367.07 1380.23 1397.73 1423.12 1452.27 1469.07 1497.43 1526.57 1541.87 1556.37 1571.74 1595.04 1629.1 1648.11 1661.73 1686.7 1704.11 1718.97 1748.29 1775.97" y="0" font-size="47.09" fill="#000">Genomic coordinate (chr14), &quot;+&quot; strand</text>
<path d="M400,2194H2339.6" stroke="#000" stroke-width="3.3"/>
<path d="M430.99,2181.4L438.79,2194L430.99,2206.6M469.78,2181.4L477.58,2194L469.78,2206.6M508.57,2181.4L516.37,2194L508.57,2206.6M547.36,2181.4L555.16,2194L547.36,2206.6M586.15,2181.4L593.95,2194L586.15,2206.6M624.94,2181.4L632.74,2194L624.94,2206.6M663.73,2181.4L671.53,2194L663.73,2206.6M702.52,2181.4L710.32,2194L702.52,2206.6M741.31,2181.4L749.11,2194L741.31,2206.6M780.1,2181.4L787.9,2194L780.1,2206.6M818.89,2181.4L826.69,2194L818.89,2206.6M857.68,2181.4L865.48,2194L857.68,2206.6M896.47,2181.4L904.27,2194L896.47,2206.6M935.26,2181.4L943.06,2194L935.26,2206.6M974.05,2181.4L981.85,2194L974.05,2206.6M1012.84,2181.4L1020.64,2194L1012.84,2206.6M1051.63,2181.4L1059.43,2194L1051.63,2206.6M1090.42,2181.4L1098.22,2194L1090.42,2206.6M1129.21,2181.4L1137.01,2194L1129.21,2206.6M1168,2181.4L1175.8,2194L1168,2206.6M1206.79,2181.4L1214.59,2194L1206.79,2206.6M1245.58,2181.4L1253.38,2194L1245.58,2206.6M1284.37,2181.4L1292.17,2194L1284.37,2206.6M1323.16,2181.4L1330.96,2194L1323.16,2206.6M1361.95,2181.4L1369.75,2194L1361.95,2206.6M1400.74,2181.4L1408.54,2194L1400.74,2206.6M1439.53,2181.4L1447.33,2194L1439.53,2206.6M1478.32,2181.4L1486.12,2194L1478.32,2206.6M1517.11,2181.4L1524.91,2194L1517.11,2206.6M1555.9,2181.4L1563.7,2194L1555.9,2206.6M1594.69,2181.4L1602.49,2194L1594.69,2206.6M1633.48,2181.4L1641.28,2194L1633.48,2206.6M1672.27,2181.4L1680.07,2194L1672.27,2206.6M1711.06,2181.4L1718.86,2194L1711.06,2206.6M1749.85,2181.4L1757.65,2194L1749.85,2206.6M1788.64,2181.4L1796.44,2194L1788.64,2206.6M1827.43,2181.4L1835.23,2194L1827.43,2206.6M1866.22,2181.4L1874.02,2194L1866.22,2206.6M1905.01,2181.4L1912.81,2194L1905.01,2206.6M1943.8,2181.4L1951.6,2194L1943.8,2206.6M1982.59,2181.4L1990.39,2194L1982.59,2206.6M2021.38,2181.4L2029.18,2194L2021.38,2206.6M2060.17,2181.4L2067.97,2194L2060.17,2206.6M2098.96,2181.4L2106.76,2194L2098.96,2206.6M2137.75,2181.4L2145.55,2194L2137.75,2206.6M2176.54,2181.4L2184.34,2194L2176.54,2206.6M2215.33,2181.4L2223.13,2194L2215.33,2206.6M2254.12,2181.4L2261.92,2194L2254.12,2206.6M2292.91,2181.4L2300.71,2194L2292.91,2206.6M2331.7,2181.4L2339.5,2194L2331.7,2206.6" fill="none" stroke="#000" stroke-width="3.3" stroke-linejoin="miter"/>
<rect x="400" y="2164.1" width="114.6" height="59.8" fill="#000"/>
<rect x="1784.7" y="2164.1" width="59.1" height="59.8" fill="#000"/>
<rect x="2257" y="2164.1" width="82.6" height="59.8" fill="#000"/>
<path d="M400,2392.5H2339.6" stroke="#000" stroke-width="3.3"/>
<path d="M430.99,2379.9L438.79,2392.5L430.99,2405.1M469.78,2379.9L477.58,2392.5L469.78,2405.1M508.57,2379.9L516.37,2392.5L508.57,2405.1M547.36,2379.9L555.16,2392.5L547.36,2405.1M586.15,2379.9L593.95,2392.5L586.15,2405.1M624.94,2379.9L632.74,2392.5L624.94,2405.1M663.73,2379.9L671.53,2392.5L663.73,2405.1M702.52,2379.9L710.32,2392.5L702.52,2405.1M741.31,2379.9L749.11,2392.5L741.31,2405.1M780.1,2379.9L787.9,2392.5L780.1,2405.1M818.89,2379.9L826.69,2392.5L818.89,2405.1M857.68,2379.9L865.48,2392.5L857.68,2405.1M896.47,2379.9L904.27,2392.5L896.47,2405.1M935.26,2379.9L943.06,2392.5L935.26,2405.1M974.05,2379.9L981.85,2392.5L974.05,2405.1M1012.84,2379.9L1020.64,2392.5L1012.84,2405.1M1051.63,2379.9L1059.43,2392.5L1051.63,2405.1M1090.42,2379.9L1098.22,2392.5L1090.42,2405.1M1129.21,2379.9L1137.01,2392.5L1129.21,2405.1M1168,2379.9L1175.8,2392.5L1168,2405.1M1206.79,2379.9L1214.59,2392.5L1206.79,2405.1M1245.58,2379.9L1253.38,2392.5L1245.58,2405.1M1284.37,2379.9L1292.17,2392.5L1284.37,2405.1M1323.16,2379.9L1330.96,2392.5L1323.16,2405.1M1361.95,2379.9L1369.75,2392.5L1361.95,2405.1M1400.74,2379.9L1408.54,2392.5L1400.74,2405.1M1439.53,2379.9L1447.33,2392.5L1439.53,2405.1M1478.32,2379.9L1486.12,2392.5L1478.32,2405.1M1517.11,2379.9L1524.91,2392.5L1517.11,2405.1M1555.9,2379.9L1563.7,2392.5L1555.9,2405.1M1594.69,2379.9L1602.49,2392.5L1594.69,2405.1M1633.48,2379.9L1641.28,2392.5L1633.48,2405.1M1672.27,2379.9L1680.07,2392.5L1672.27,2405.1M1711.06,2379.9L1718.86,2392.5L1711.06,2405.1M1749.85,2379.9L1757.65,2392.5L1749.85,2405.1M1788.64,2379.9L1796.44,2392.5L1788.64,2405.1M1827.43,2379.9L1835.23,2392.5L1827.43,2405.1M1866.22,2379.9L1874.02,2392.5L1866.22,2405.1M1905.01,2379.9L1912.81,2392.5L1905.01,2405.1M1943.8,2379.9L1951.6,2392.5L1943.8,2405.1M1982.59,2379.9L1990.39,2392.5L1982.59,2405.1M2021.38,2379.9L2029.18,2392.5L2021.38,2405.1M2060.17,2379.9L2067.97,2392.5L2060.17,2405.1M2098.96,2379.9L2106.76,2392.5L2098.96,2405.1M2137.75,2379.9L2145.55,2392.5L2137.75,2405.1M2176.54,2379.9L2184.34,2392.5L2176.54,2405.1M2215.33,2379.9L2223.13,2392.5L2215.33,2405.1M2254.12,2379.9L2261.92,2392.5L2254.12,2405.1M2292.91,2379.9L2300.71,2392.5L2292.91,2405.1M2331.7,2379.9L2339.5,2392.5L2331.7,2405.1" fill="none" stroke="#000" stroke-width="3.3" stroke-linejoin="miter"/>
<rect x="400" y="2362.6" width="114.6" height="59.8" fill="#000"/>
<rect x="2257" y="2362.6" width="82.6" height="59.8" fill="#000"/>
</svg>
</body></html>
